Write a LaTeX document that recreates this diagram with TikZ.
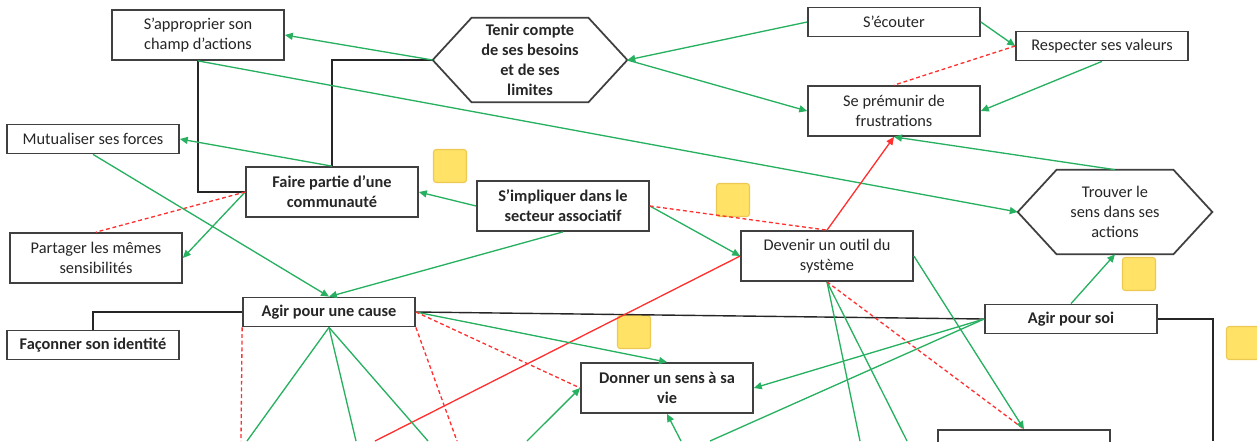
\documentclass[tikz,border=0pt]{standalone}
\usepackage{fontspec}
\setmainfont{Carlito}
\usetikzlibrary{arrows.meta,calc}

\definecolor{vert}{RGB}{38,176,96}
\definecolor{rouge}{RGB}{255,48,48}
\definecolor{bord}{RGB}{64,64,64}
\definecolor{jaune}{RGB}{255,226,102}
\definecolor{jauneb}{RGB}{236,200,84}

\tikzset{
  box/.style={draw=bord, line width=1pt, fill=white, text=black!85,
    minimum width=3.44cm, minimum height=0.58cm, inner sep=1pt, align=center,
    font=\fontsize{9.3}{11.4}\selectfont},
  tall/.style={minimum height=1cm},
  gras/.style={font=\fontsize{9.3}{11.4}\selectfont\bfseries},
  hexa/.style={minimum width=3.88cm, minimum height=1.68cm, inner sep=0pt,
    align=center, text=black!85, font=\fontsize{9.3}{11.2}\selectfont},
  postit/.style={draw=jauneb, fill=jaune, line width=0.6pt, rounded corners=1.5pt,
    minimum size=0.66cm, inner sep=0pt},
  fleche/.style={vert, line width=0.75pt, -{Triangle[length=4.5pt,width=4pt]}},
  lien/.style={vert, line width=0.75pt},
  rfleche/.style={rouge, line width=0.75pt, -{Triangle[length=4.5pt,width=4pt]}},
  rlien/.style={rouge, line width=0.75pt},
  pointille/.style={rouge, line width=0.75pt, dash pattern=on 2.2pt off 1.6pt},
  trait/.style={black!85, line width=0.8pt}
}

% contour of a hexagon node
\newcommand{\hexborder}[1]{%
  \draw[bord, line width=1pt] (#1.west) -- ([xshift=0.78cm]#1.north west)
    -- ([xshift=-0.78cm]#1.north east) -- (#1.east)
    -- ([xshift=-0.78cm]#1.south east) -- ([xshift=0.78cm]#1.south west) -- cycle;}

\begin{document}
\begin{tikzpicture}[x=0.02cm, y=-0.02cm]
    \useasboundingbox (0,0) rectangle (1257,441);

    % post-it notes
    \node[postit] (note1) at (450,166) {};
    \node[postit] (note2) at (733,200) {};
    \node[postit] (note3) at (1139,274) {};
    \node[postit] (note4) at (634,332) {};
    \node[postit] (note5) at (1243,343) {};

    % the boxes
    \node[box, tall] (appro) at (198,35) {S’approprier son\\champ d’actions};
    \node[hexa, gras] (tenir) at (530,60) {Tenir compte\\de ses besoins\\et de ses\\limites};
    \node[box] (ecouter) at (894,22) {S’écouter};
    \node[box] (respect) at (1102,46) {Respecter ses valeurs};
    \node[box, tall] (premunir) at (894,111) {Se prémunir de\\frustrations};
    \node[box] (mutual) at (93,139) {Mutualiser ses forces};
    \node[box, tall, gras] (faire) at (332,192) {Faire partie d’une\\communauté};
    \node[box, tall, gras] (impliq) at (563,206) {S’impliquer dans le\\secteur associatif};
    \node[box, tall] (partager) at (96,258) {Partager les mêmes\\sensibilités};
    \node[box, tall] (devenir) at (827,256) {Devenir un outil du\\système};
    \node[hexa] (trouver) at (1115,212) {Trouver le\\sens dans ses\\actions};
    \node[box, gras] (cause) at (329,312) {Agir pour une cause};
    \node[box, gras] (faconner) at (93,345) {Façonner son identité};
    \node[box, tall, gras] (donner) at (667,388) {Donner un sens à sa\\vie};
    \node[box, gras] (soi) at (1071,319) {Agir pour soi};
    \node[box, tall] (bas) at (1024,455) {};

    \hexborder{tenir}
    \hexborder{trouver}

    % loose ends below the page
    \coordinate (r1) at (375,441);
    \coordinate (b1) at (247,441);
    \coordinate (b2) at (356,441);
    \coordinate (b3) at (428,441);
    \coordinate (b4) at (241,441);
    \coordinate (b5) at (457,441);
    \coordinate (b6) at (527,441);
    \coordinate (b7) at (681,441);
    \coordinate (b8) at (710,441);
    \coordinate (b9) at (860,441);
    \coordinate (b10) at (907,441);
    \coordinate (b11) at (1213,441);

    % black links
    \draw[trait] (appro.south) |- (faire.west);
    \draw[trait] (tenir.west) -| (faire.north);
    \draw[trait] (faconner.north) |- (cause.west);
    \draw[trait] (cause.east) -- (soi.west);
    \draw[trait] (soi.east) -| (b11);

    % top part
    \draw[fleche] (tenir.west) -- (appro.east);
    \draw[fleche] (ecouter.west) -- (tenir.east);
    \draw[fleche] (tenir.east) -- (premunir.west);
    \draw[fleche] (ecouter.east) -- (respect.west);
    \draw[fleche] (respect.south) -- (premunir.east);
    \draw[pointille] (respect.west) -- (premunir.north);
    \draw[fleche] (appro.south) -- (trouver.west);
    \draw[fleche] (trouver.north) -- (premunir.south);
    \draw[rfleche] (devenir.north) -- (premunir.south);

    % middle part
    \draw[fleche] (faire.north) -- (mutual.east);
    \draw[fleche] (faire.west) -- (partager.east);
    \draw[pointille] (faire.west) -- (partager.north);
    \draw[fleche] (impliq.west) -- (faire.east);
    \draw[fleche] (impliq.east) -- (devenir.west);
    \draw[pointille] (impliq.east) -- (devenir.north);
    \draw[fleche] (impliq.south) -- (cause.north);
    \draw[fleche] (mutual.south) -- (cause.north);
    \draw[fleche] (soi.north) -- (trouver.south);
    \draw[rlien] (r1) -- (devenir.west);

    % bottom part
    \draw[lien] (cause.south) -- (b1);
    \draw[lien] (cause.south) -- (b2);
    \draw[lien] (cause.south) -- (b3);
    \draw[pointille] (cause.south west) -- (b4);
    \draw[pointille] (cause.south east) -- (b5);
    \draw[fleche] (cause.east) -- (donner.north);
    \draw[pointille] (cause.east) -- (donner.west);
    \draw[fleche] (b6) -- (donner.west);
    \draw[fleche] (b7) -- (donner.south);
    \draw[fleche] (soi.west) -- (donner.east);
    \draw[lien] (soi.west) -- (b8);
    \draw[lien] (devenir.south) -- (b9);
    \draw[lien] (devenir.south) -- (b10);
    \draw[pointille] (devenir.south) -- (bas.north);
    \draw[fleche] (devenir.east) -- (bas.north);
\end{tikzpicture}
\end{document}
